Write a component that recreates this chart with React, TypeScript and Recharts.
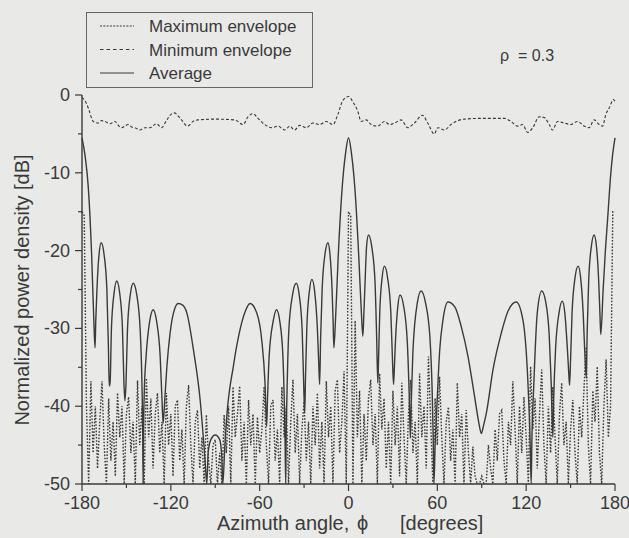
import React from 'react';
import { LineChart, Line, XAxis, YAxis, Legend } from 'recharts';

// [azimuth deg, dB]
const average: [number, number][] = [
  [-180, -5.5], [-178, -7.7], [-175.7, -12], [-173.5, -20.5], [-172, -29], [-171.2, -32.5],
  [-170.7, -29], [-169.9, -25], [-168.5, -20.5], [-167, -19], [-165.1, -20.5], [-163.2, -25], [-162.2, -32], [-161.6, -37.4],
  [-161, -36.9], [-160.1, -29.9], [-158.3, -25.4], [-156.5, -23.9], [-154.6, -25.4], [-152.7, -29.9], [-151.7, -36.9], [-151, -39.3],
  [-150.3, -37.2], [-149.3, -30.2], [-147.4, -25.7], [-145.4, -24.2], [-143, -25.7], [-140.7, -30.2], [-139.5, -37.2], [-139, -43], [-138.7, -50],
  [-138.4, -43], [-137.9, -38], [-136.7, -33.6], [-134.3, -29.1], [-131.9, -27.6], [-129.6, -29.1], [-127.2, -33.6], [-126, -39], [-125.2, -42.2],
  [-124.2, -39.5], [-122.7, -35], [-120.5, -30.6], [-118.2, -28], [-115, -26.8], [-112, -27], [-109.2, -28], [-104.7, -32.8], [-100.2, -39.2], [-96.9, -46.9], [-95.7, -50],
  [-94.8, -46], [-93, -44.3], [-90, -43.7], [-87, -44.3], [-85.6, -46.5], [-84.9, -50],
  [-83.5, -45], [-82.2, -41.3], [-77.8, -34.9], [-73.3, -30.2], [-69.9, -27.9], [-66.5, -26.8], [-62, -28], [-58.6, -31.5], [-56.4, -37], [-55.3, -42.6],
  [-54.7, -39], [-53.6, -33.6], [-50.9, -29.1], [-48.6, -27.6], [-46.4, -29.1], [-44.3, -33.6], [-43.3, -40], [-42.8, -45], [-42.4, -50],
  [-42.1, -44], [-41.5, -38], [-40.3, -30.2], [-37.8, -25.7], [-35.3, -24.2], [-33.3, -25.7], [-31.3, -30.2], [-30.3, -37], [-29.6, -40.9],
  [-29, -36], [-28.1, -29.7], [-26.4, -25.2], [-24.7, -23.7], [-22.9, -25.2], [-21.1, -29.7], [-20.1, -34.5], [-19.5, -37.2],
  [-18.8, -31], [-17.8, -25], [-15.9, -20.5], [-13.9, -19], [-12.5, -20.5], [-11.1, -25], [-10.4, -29], [-9.9, -32.5],
  [-8.8, -29], [-7, -21], [-4.5, -12.5], [-2, -7.5], [0, -5.5], [2, -7.5], [4.5, -12.5], [7, -21], [8.7, -28], [9.7, -31],
  [10.4, -28], [11.2, -24], [12.2, -19.5], [13.5, -18], [15.7, -19.5], [17.9, -24], [19, -31], [19.8, -37],
  [20.3, -34], [21.1, -28], [22.7, -23.5], [24.3, -22], [26.4, -23.5], [28.6, -28], [29.7, -34], [30.4, -37.2],
  [30.9, -35.5], [31.7, -31.7], [33.3, -27.2], [34.8, -25.7], [37.3, -27.2], [39.7, -31.7], [41, -38.5], [41.8, -44.1],
  [42.3, -40], [43.5, -33], [46.5, -26.7], [49, -25.2], [52, -26.7], [55, -31.2], [56.5, -38], [57.2, -44], [57.7, -50],
  [58.5, -45], [59.4, -41.3], [61.6, -32.8], [63.8, -28.9], [67.2, -26.6], [71.7, -27.2], [76.2, -29.8], [80.7, -33.6], [85.2, -38.8], [88.1, -42.2], [89.7, -43.5],
  [91.2, -42.5], [93.1, -40.9], [97.6, -35.3], [103.2, -30.6], [107.7, -27.8], [113.3, -26.6], [117.8, -28.9], [121.2, -37], [122.6, -44], [123.4, -50],
  [123.9, -44], [125, -38], [127.5, -28], [130.5, -25.2], [133.3, -26.7], [135.6, -31], [136.9, -37], [138, -44],
  [138.6, -39], [139.9, -32.5], [142.2, -28], [144.4, -26.5], [146.1, -28], [147.8, -32.5], [148.7, -35.5], [149.3, -37.3],
  [150, -34], [151, -28], [153, -23.5], [155.1, -22], [156.8, -23.5], [158.5, -28], [159.8, -34], [160.6, -36.4],
  [161.2, -30.5], [162.2, -24], [164, -19.5], [165.9, -18], [167.5, -19.5], [169, -24], [169.8, -28], [170.4, -30.8],
  [172, -25], [173.5, -20], [175, -16], [177.2, -10], [178.5, -7.5], [180, -5.5],
];

const maxEnvelope: [number, number][] = [
  [-180, -0.3], [-177.5, -0.9], [-175.7, -1.7], [-172.4, -3.4], [-169, -3.6], [-166.8, -3.3], [-164.5, -3.4], [-161.1, -3.7],
  [-157.7, -3.4], [-155.5, -3.9], [-153.3, -4.2], [-148.8, -3.8], [-146.5, -4.1], [-144.3, -4.2], [-140.9, -4.5], [-137.5, -4.2],
  [-134.1, -4.2], [-129.7, -3.7], [-126.3, -4.2], [-123, -3.3], [-120.5, -2.6], [-117.8, -2.3], [-112.8, -3.2], [-108.8, -4.0],
  [-105, -3.4], [-101.6, -3.2], [-90, -3.1], [-76.8, -3.2], [-71.2, -3.8], [-67.9, -2.8], [-64.5, -2.4], [-61.1, -3.0],
  [-56.6, -3.8], [-52.1, -4.2], [-47.6, -4.0], [-43.1, -4.5], [-39.7, -4.0], [-36.4, -4.5], [-33, -3.9], [-28.5, -4.2],
  [-24, -3.6], [-19.5, -3.8], [-15, -3.4], [-10.5, -3.8], [-7.2, -2.5], [-3.8, -0.7], [0, -0.2], [3, -0.9], [6.3, -2.1],
  [8.5, -3.4], [11.9, -3.2], [15.3, -3.8], [19.8, -4.0], [24.3, -3.4], [27.7, -3.8], [31.1, -3.6], [35.5, -3.2], [40, -4.2],
  [44.5, -3.6], [50, -2.6], [53.5, -3.6], [58, -5.0], [60.3, -4.2], [64.8, -4.5], [69.2, -3.8], [73.7, -3.3], [78.3, -3.1],
  [90, -3.0], [105.2, -3.0], [109.7, -3.4], [114.2, -4.0], [117.6, -3.8], [121, -4.8], [124.5, -4.2], [128.8, -2.8],
  [132.2, -2.9], [135.6, -3.8], [137.8, -4.5], [141.2, -3.4], [145.7, -3.6], [150.1, -3.8], [154.7, -3.4], [159.2, -4.0],
  [162.5, -4.2], [165.9, -3.2], [169.3, -3.8], [171.6, -4.0], [173.8, -2.5], [176, -1.7], [179, -0.6], [180, -0.8],
];

// minimum envelope, one value every 1.5 deg from -180 to 180
const minStart = -180;
const minStep = 1.5;
const minEnvelope = [
  -15, -15.5, -40, -50, -36.8, -46, -40, -48, -42, -36.8,
  -45, -50, -39, -47, -42, -49, -38.3, -44, -40, -50,
  -41, -38.8, -46, -42, -50, -36.7, -45, -40, -50, -36.4,
  -44, -39, -48, -41, -38.3, -46, -42, -50, -38.3, -45,
  -41, -49, -40, -39.2, -47, -43, -50, -40, -37.3, -45,
  -50, -42, -40.5, -48, -44, -50, -41.1, -47, -50, -45,
  -44.3, -50, -46, -50, -41.1, -46, -40, -50, -37.5, -44,
  -41, -37.4, -47, -42, -50, -39.2, -45, -41, -50, -41.4,
  -46, -43, -37.5, -45, -50, -40, -39.2, -47, -43, -50,
  -37.5, -44, -40, -50, -42, -36.6, -46, -41, -50, -43,
  -39.4, -47, -42, -50, -40, -45, -38.3, -48, -42, -50,
  -36.8, -44, -40, -50, -38, -36.6, -46, -42, -35.5, -50,
  -15, -15.5, -50, -29, -44, -38, -50, -41, -47, -39,
  -36.6, -45, -41, -50, -35.8, -43, -39, -48, -42, -50,
  -38, -45, -40, -49, -37, -44, -50, -41, -36.6, -46,
  -42, -50, -35.8, -44, -40, -48, -33.6, -42, -50, -39,
  -45, -36.2, -44, -50, -42, -40.1, -47, -43, -50, -37,
  -44, -41, -50, -40.5, -46, -50, -45.2, -49, -50, -50,
  -49, -50, -50, -45, -48, -50, -43, -47, -41, -40.5,
  -47, -50, -42, -45, -36.8, -43, -50, -40, -46, -38.8,
  -44, -50, -34.9, -43, -39, -48, -41, -35.3, -45, -50,
  -40, -46, -37.5, -44, -50, -41, -37, -45, -42, -50,
  -43, -39.2, -46, -50, -40, -44, -38, -32.4, -45, -50,
  -38, -42, -34.9, -46, -50, -40, -34, -44, -40, -15,
  -15,
];

const xTicks = [-180, -150, -120, -90, -60, -30, 0, 30, 60, 90, 120, 150, 180];
const yTicks = [-50, -45, -40, -35, -30, -25, -20, -15, -10, -5, 0];
const legendOrder = ['Maximum envelope', 'Minimum envelope', 'Average'];

const INK = '#3a3a3a';
const FONT = '"Liberation Sans", Arial, Helvetica, sans-serif';

const LEGEND_DASH: Record<string, string | undefined> = {
  'Maximum envelope': '2 1.3',
  'Minimum envelope': '3.5 3',
  'Average': undefined,
};

const avgData = average.map(([x, y]) => ({ x, y }));
const maxData = maxEnvelope.map(([x, y]) => ({ x, y }));
const minData = minEnvelope.map((y, i) => ({ x: minStart + i * minStep, y }));

function XTick({ x, y, payload }: any) {
  const major = payload.value % 60 === 0;
  return (
    <g>
      <line x1={x} y1={y} x2={x} y2={y + (major ? 7 : 4)} stroke={INK} strokeWidth={1.2} />
      {major && (
        <text x={x} y={y + 25} textAnchor="middle" fill={INK} fontSize={18} fontFamily={FONT}>
          {payload.value}
        </text>
      )}
    </g>
  );
}

function YTick({ x, y, payload }: any) {
  const major = payload.value % 10 === 0;
  return (
    <g>
      <line x1={x - (major ? 7 : 4)} y1={y} x2={x} y2={y} stroke={INK} strokeWidth={1.2} />
      {major && (
        <text x={x - 12} y={y + 6} textAnchor="end" fill={INK} fontSize={18} fontFamily={FONT}>
          {payload.value}
        </text>
      )}
    </g>
  );
}

function renderLegend(props: any) {
  const items = legendOrder.filter((name) => (props.payload || []).some((p: any) => p.value === name));
  return (
    <svg width={227} height={76}>
      <rect x={0.5} y={0.5} width={226} height={75} fill="none" stroke="#666" strokeWidth={1} />
      {items.map((name, i) => (
        <g key={name}>
          <line x1={14} y1={14 + i * 23.5} x2={48} y2={14 + i * 23.5} stroke={INK} strokeWidth={1.1}
            strokeDasharray={LEGEND_DASH[name]} />
          <text x={63} y={20 + i * 23.5} fill={INK} fontSize={17} fontFamily={FONT}>{name}</text>
        </g>
      ))}
    </svg>
  );
}

export default function App() {
  return (
    <div style={{ position: 'fixed', left: 0, top: 0, width: 629, height: 538, background: '#e9e9e8' }}>
      <LineChart width={629} height={538} margin={{ top: 95, right: 14, bottom: 24, left: 32 }}>
        <XAxis
          type="number"
          dataKey="x"
          domain={[-180, 180]}
          ticks={xTicks}
          interval={0}
          tickSize={0}
          tickMargin={0}
          tickLine={false}
          tick={<XTick />}
          height={30}
          stroke={INK}
          strokeWidth={1.4}
          label={() => (
            <text y={530} fill={INK} fontSize={20} fontFamily={FONT}>
              <tspan x={217}>Azimuth angle,</tspan>
              <tspan x={357}>{'\u03d5'}</tspan>
              <tspan x={400}>[degrees]</tspan>
            </text>
          )}
        />
        <YAxis
          type="number"
          domain={[-50, 0]}
          ticks={yTicks}
          interval={0}
          allowDataOverflow
          tickSize={0}
          tickMargin={0}
          tickLine={false}
          tick={<YTick />}
          width={50}
          stroke={INK}
          strokeWidth={1.4}
          label={() => (
            <text x={0} y={0} transform="translate(29 290) rotate(-90)" textAnchor="middle" fill={INK} fontSize={20} fontFamily={FONT}>
              Normalized power density [dB]
            </text>
          )}
        />
        <Legend
          content={renderLegend}
          layout="horizontal"
          verticalAlign="middle"
          align="center"
          wrapperStyle={{ position: 'absolute', left: 86, top: 12, width: 227, height: 76 }}
        />
        <Line
          name="Maximum envelope"
          data={maxData}
          dataKey="y"
          type="monotone"
          stroke={INK}
          strokeWidth={1.1}
          strokeDasharray="3 2"
          dot={false}
          isAnimationActive={false}
        />
        <Line
          name="Minimum envelope"
          data={minData}
          dataKey="y"
          type="linear"
          stroke={INK}
          strokeWidth={1.4}
          strokeDasharray="1.6 1.6"
          dot={false}
          isAnimationActive={false}
        />
        <Line
          name="Average"
          data={avgData}
          dataKey="y"
          type="monotone"
          stroke={INK}
          strokeWidth={1.4}
          dot={false}
          isAnimationActive={false}
        />
      </LineChart>
      <div style={{ position: 'absolute', left: 500, top: 47, fontFamily: FONT, fontSize: 16, color: INK, whiteSpace: 'pre' }}>
        {'\u03c1  = 0.3'}
      </div>
    </div>
  );
}
